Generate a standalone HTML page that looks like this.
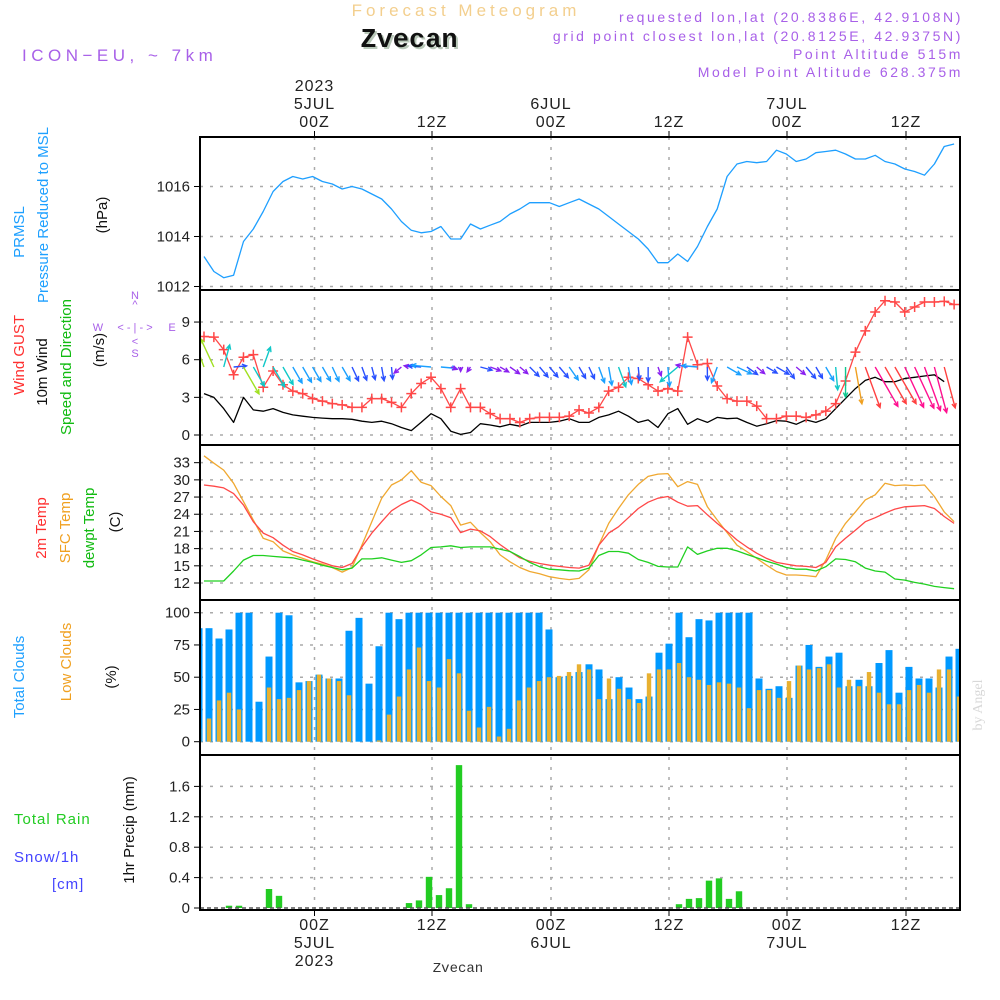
<!DOCTYPE html>
<html><head><meta charset="utf-8"><title>Forecast Meteogram Zvecan</title>
<style>
html,body{margin:0;padding:0;background:#fff;}
svg{display:block;font-family:"Liberation Sans",sans-serif;}
</style></head>
<body>
<svg id="chart" xmlns="http://www.w3.org/2000/svg" width="1000" height="1000" viewBox="0 0 1000 1000">
<rect x="0" y="0" width="1000" height="1000" fill="#fff"/>
<text x="466" y="16" text-anchor="middle" font-size="17" fill="#f3cf8e" letter-spacing="4">Forecast Meteogram</text>
<text x="411" y="49" text-anchor="middle" font-size="27" font-weight="bold" font-family="Liberation Mono, monospace" fill="#b9c8b9">Zvecan</text>
<text x="409" y="47" text-anchor="middle" font-size="27" font-weight="bold" font-family="Liberation Mono, monospace" fill="#111">Zvecan</text>
<text x="22" y="61" font-size="17" fill="#a860e8" letter-spacing="4.5">ICON−EU, ~ 7km</text>
<g font-size="14" fill="#a860e8" text-anchor="end" letter-spacing="2.6">
<text x="963" y="22">requested lon,lat (20.8386E, 42.9108N)</text>
<text x="963" y="41">grid point closest lon,lat (20.8125E, 42.9375N)</text>
<text x="963" y="59">Point Altitude 515m</text>
<text x="963" y="77">Model Point Altitude 628.375m</text>
</g>
<g font-size="15">
<text transform="translate(24,232) rotate(-90)" fill="#1ea0ff" text-anchor="middle">PRMSL</text>
<text transform="translate(48,215) rotate(-90)" fill="#1ea0ff" text-anchor="middle">Pressure Reduced to MSL</text>
<text transform="translate(107,215) rotate(-90)" fill="#111" text-anchor="middle">(hPa)</text>
</g>
<g font-size="15">
<text transform="translate(24,355) rotate(-90)" fill="#ff3030" text-anchor="middle">Wind GUST</text>
<text transform="translate(47,372) rotate(-90)" fill="#111" text-anchor="middle">10m Wind</text>
<text transform="translate(71,367) rotate(-90)" fill="#11bb11" text-anchor="middle">Speed and Direction</text>
<text transform="translate(104,350) rotate(-90)" fill="#111" text-anchor="middle">(m/s)</text>
</g>
<g fill="#a860e8" font-size="11" text-anchor="middle">
<text x="135" y="299">N</text><text x="135" y="308">^</text>
<text x="98" y="331">W</text><text x="172" y="331">E</text>
<text x="135" y="331">&lt; - | - &gt;</text>
<text x="135" y="345">&lt;</text><text x="135" y="357">S</text>
</g>
<g font-size="15">
<text transform="translate(46,528) rotate(-90)" fill="#ff3030" text-anchor="middle">2m Temp</text>
<text transform="translate(70,528) rotate(-90)" fill="#f0a020" text-anchor="middle">SFC Temp</text>
<text transform="translate(94,528) rotate(-90)" fill="#11bb11" text-anchor="middle">dewpt Temp</text>
<text transform="translate(120,522) rotate(-90)" fill="#111" text-anchor="middle">(C)</text>
</g>
<g font-size="15">
<text transform="translate(24,677) rotate(-90)" fill="#1ea0ff" text-anchor="middle">Total Clouds</text>
<text transform="translate(71,662) rotate(-90)" fill="#f0a020" text-anchor="middle">Low Clouds</text>
<text transform="translate(116,677) rotate(-90)" fill="#111" text-anchor="middle">(%)</text>
</g>
<g font-size="15">
<text x="14" y="824" fill="#22cc22" letter-spacing="1">Total  Rain</text>
<text x="14" y="862" fill="#4444ff" letter-spacing="1">Snow/1h</text>
<text x="52" y="889" fill="#4444ff" letter-spacing="1">[cm]</text>
<text transform="translate(134,830) rotate(-90)" fill="#111" text-anchor="middle">1hr Precip (mm)</text>
</g>
<text transform="translate(982,705) rotate(-90)" font-size="14" font-family="Liberation Serif, serif" fill="#d8d8d8" text-anchor="middle">by Angel</text>
<text x="458" y="972" font-size="14" font-family="Liberation Mono, monospace" fill="#333" text-anchor="middle">Zvecan</text>
<g id="plot"></g>
</svg>
<script>
const pressure = [1013.2,1012.6,1012.35,1012.45,1013.8,1014.3,1015.0,1015.8,1016.2,1016.4,1016.3,1016.4,1016.2,1016.1,1015.9,1016.0,1015.9,1015.7,1015.5,1015.1,1014.6,1014.25,1014.15,1014.2,1014.4,1013.9,1013.9,1014.5,1014.3,1014.45,1014.6,1014.9,1015.1,1015.35,1015.35,1015.35,1015.2,1015.35,1015.5,1015.3,1015.1,1014.8,1014.5,1014.2,1013.9,1013.5,1012.95,1012.95,1013.3,1013.0,1013.6,1014.4,1015.1,1016.4,1016.9,1017.0,1016.95,1017.0,1017.45,1017.3,1017.0,1017.1,1017.35,1017.4,1017.45,1017.3,1017.1,1017.1,1017.25,1017.0,1016.9,1016.7,1016.6,1016.45,1016.9,1017.6,1017.7];
const gust = [7.85,7.8,6.8,4.8,6.2,6.4,3.8,5.1,4.0,3.5,3.3,2.9,2.7,2.5,2.4,2.2,2.2,2.9,2.9,2.6,2.2,3.3,4.1,4.6,3.7,2.2,3.7,2.2,2.2,1.7,1.3,1.3,1.0,1.3,1.4,1.4,1.4,1.5,2.0,1.75,2.2,3.5,3.8,4.6,4.5,4.0,3.5,3.7,3.5,7.8,5.6,5.7,3.9,2.9,2.7,2.7,2.3,1.3,1.3,1.5,1.5,1.4,1.6,1.9,2.5,4.3,6.6,8.3,9.8,10.7,10.6,9.8,10.2,10.6,10.6,10.65,10.4];
const wind10m = [3.3,3.0,2.1,1.0,3.0,2.0,1.9,2.1,1.8,1.6,1.5,1.4,1.35,1.3,1.3,1.25,1.1,1.0,1.1,0.9,0.6,0.35,1.0,1.7,1.3,0.3,0.05,0.2,0.9,0.8,0.65,0.85,0.7,1.0,1.0,1.0,1.1,1.3,1.0,1.0,1.4,1.6,1.9,1.5,1.0,1.2,0.6,1.7,2.1,0.85,1.3,1.0,1.4,1.3,1.35,1.0,0.7,0.9,1.15,1.1,0.85,1.2,1.0,1.3,2.1,2.9,3.7,4.35,4.6,4.25,4.25,4.5,4.6,4.7,4.8,4.25];
const windDir = [340,335,15,85,150,150,20,150,150,150,150,150,150,155,150,155,160,165,170,175,230,280,275,275,95,110,180,215,105,110,120,125,130,135,140,140,140,145,150,155,160,170,160,170,175,180,160,175,230,280,275,180,200,120,115,125,130,120,120,145,130,140,150,150,175,180,170,160,150,150,150,155,155,160,165,165,170];
const temp2m = [29.1,28.9,28.6,27.6,25.6,22.7,20.7,19.9,18.6,17.5,16.9,16.2,15.6,15.0,14.7,15.4,18.3,20.7,22.7,24.6,25.7,26.5,25.7,24.4,24.0,23.4,20.8,21.4,21.1,20.1,18.7,17.5,16.4,15.8,15.4,15.1,14.9,14.7,14.6,15.1,18.6,20.7,21.8,23.4,25.0,26.1,26.8,27.1,26.1,25.4,25.5,23.9,22.4,21.0,19.5,18.3,17.2,16.3,15.6,15.3,15.0,14.9,14.7,15.6,18.3,19.8,21.2,22.7,23.4,24.2,24.9,25.3,25.4,25.5,25.0,23.6,22.4];
const tempSfc = [34.2,32.9,31.7,29.4,26.2,23.0,19.8,19.2,17.6,16.9,16.3,15.7,15.3,14.7,13.9,14.7,18.6,22.7,26.8,29.1,30.0,31.6,29.6,29.0,27.1,25.5,22.1,22.6,20.8,19.2,16.9,15.7,14.7,14.0,13.6,13.1,12.8,12.6,12.8,14.3,18.6,22.4,25.0,27.4,29.2,30.6,31.0,31.1,28.8,29.7,29.2,25.3,23.0,20.8,18.6,17.5,16.3,15.1,14.0,13.4,13.4,13.3,13.1,16.0,19.8,22.4,24.4,26.5,27.4,29.4,29.0,29.1,29.0,29.1,27.1,24.4,22.7];
const dewpt = [12.35,12.35,12.35,14.1,16.0,16.8,16.8,16.65,16.5,16.4,16.0,15.6,15.1,14.7,14.3,14.6,16.2,16.2,16.4,16.0,15.6,15.9,16.9,18.2,18.3,18.5,18.2,18.3,18.3,18.3,17.9,17.5,16.6,15.6,14.85,14.4,14.3,14.15,14.1,14.6,16.8,17.5,17.5,17.2,16.1,15.6,14.9,14.8,14.8,18.3,17.0,17.6,18.05,18.05,17.6,17.0,16.4,15.8,15.3,14.7,14.4,14.4,14.1,14.85,16.2,16.1,15.7,14.6,14.1,13.9,12.7,12.5,12.1,11.8,11.4,11.2,11.0];
const totalClouds = [88,88,80,87,100,100,31,66,100,98,46,47,52,49,49,86,96,45,74,100,95,100,100,100,100,100,100,100,100,100,100,100,100,100,100,87,50,51,54,60,56,33,50,42,33,35,69,76,100,81,95,94,100,100,100,100,49,41,43,34,59,75,58,66,69,43,48,43,61,71,38,58,49,49,42,66,72,49];
const lowClouds = [10,18,32,38,25,0,0,42,33,34,40,47,52,49,47,36,0,0,1,21,35,56,73,47,42,64,53,24,11,27,4,10,32,42,47,50,51,54,60,56,33,49,41,33,30,53,56,56,61,50,48,44,46,45,42,26,40,40,34,47,59,56,57,60,42,48,43,54,38,29,29,40,44,38,56,56,35];
const precip = [0,0,0,0.03,0.03,0,0,0.25,0.16,0,0,0,0,0,0,0,0,0,0,0,0,0.065,0.10,0.41,0.17,0.26,1.88,0.05,0,0,0,0,0,0,0,0,0,0,0,0,0,0,0,0,0,0,0,0,0.05,0.12,0.13,0.36,0.39,0.12,0.22,0,0,0,0,0,0,0,0,0,0,0,0,0,0,0,0,0,0,0,0,0,0];
const pressTicks = [1012,1014,1016];
const windTicks = [0,3,6,9];
const tempTicks = [12,15,18,21,24,27,30,33];
const cloudTicks = [0,25,50,75,100];
const precipTicks = [0,0.4,0.8,1.2,1.6];
const timeTicks = [11.55,23.3,35.2,47.0,58.8,70.7];
const timeLabels = ["00Z","12Z","00Z","12Z","00Z","12Z"];
const dayLabels = ["5JUL","","6JUL","","7JUL",""];
const yearLabels = ["2023","","","","",""];

const XL=200, XR=960;
function xb(i){return 199+10*i;}
function xl(i){return 204+9.87*i;}
const yP = v => 286.5-(v-1012)*25;
const yW = v => 435-v*12.55;
const yT = v => 583-(v-12)*5.73;
const yC = v => 741.7-v*1.29;
const yR = v => 908-v*76;
const panels = [[137,290],[290,445],[445,600],[600,755],[755,910]];

const NS="http://www.w3.org/2000/svg";
const plot=document.getElementById('plot');
function el(tag,attrs,parent){const e=document.createElementNS(NS,tag);for(const k in attrs)e.setAttribute(k,attrs[k]);(parent||plot).appendChild(e);return e;}

const grid=el('g',{});


function hgrid(ticks,f,p){ticks.forEach(t=>{const y=f(t);if(y<=p[0]+2||y>=p[1]-2)return;const l=el('line',{x1:XL,x2:XR,y1:y,y2:y,stroke:'#aaa','stroke-width':1.5,'stroke-dasharray':'3,7'},grid);

});}
hgrid(pressTicks,yP,panels[0]);hgrid(windTicks,yW,panels[1]);hgrid(tempTicks,yT,panels[2]);hgrid(cloudTicks,yC,panels[3]);hgrid(precipTicks,yR,panels[4]);
timeTicks.forEach(t=>{const x=xb(t);const l=el('line',{x1:x,x2:x,y1:137,y2:910,stroke:'#aaa','stroke-width':1.5,'stroke-dasharray':'3,7'},grid);

});

function ylabels(ticks,f,name,fmt){const g=el('g',{'font-size':15,fill:'#222','text-anchor':'end'});


ticks.forEach(t=>{const y=f(t);const tx=el('text',{x:190,y:y+5},g);tx.textContent=fmt?fmt(t):t;


el('line',{x1:194,x2:200,y1:y,y2:y,stroke:'#000','stroke-width':1},g);});}
ylabels(pressTicks,yP,'pressure-y-axis');ylabels(windTicks,yW,'wind-y-axis');ylabels(tempTicks,yT,'temp-y-axis');ylabels(cloudTicks,yC,'cloud-y-axis');ylabels(precipTicks,yR,'precip-y-axis',t=>t===0?'0':t.toFixed(1));

const tg=el('g',{'font-size':16,fill:'#222','text-anchor':'middle','letter-spacing':'1'});


timeTicks.forEach((t,k)=>{const x=xb(t);
const a=el('text',{x:x,y:127},tg);a.textContent=timeLabels[k];


if(dayLabels[k]){const d=el('text',{x:x,y:109},tg);d.textContent=dayLabels[k];


const d2=el('text',{x:x,y:948},tg);d2.textContent=dayLabels[k];

}
if(yearLabels[k]){const yv=el('text',{x:x,y:91},tg);yv.textContent=yearLabels[k];


const y2=el('text',{x:x,y:966},tg);y2.textContent=yearLabels[k];

}
const b=el('text',{x:x,y:930},tg);b.textContent=timeLabels[k];


el('line',{x1:x,x2:x,y1:131,y2:137,stroke:'#000'},tg);el('line',{x1:x,x2:x,y1:910,y2:916,stroke:'#000'},tg);});

const defs=el('defs',{});const cp=el('clipPath',{id:'clipArea'},defs);el('rect',{x:XL,y:137,width:XR-XL,height:773},cp);
const data=el('g',{'clip-path':'url(#clipArea)'});



function line(arr,f,color,name,w){const pts=arr.map((v,i)=>xl(i).toFixed(1)+','+f(v).toFixed(1)).join(' ');
const p=el('polyline',{points:pts,fill:'none',stroke:color,'stroke-width':w||1.3,'stroke-linejoin':'round'},data);

}

line(pressure,yP,'#1e9fff','pressure-line');

line(wind10m,yW,'#000','wind-10m-line');
line(gust,yW,'#ff4848','wind-gust-line');
gust.forEach((v,i)=>{const x=xl(i),y=yW(v);const m=el('path',{d:`M${x-5},${y}H${x+5}M${x},${y-5}V${y+5}`,stroke:'#ff4848','stroke-width':1.5},data);

});
function windColor(s){if(s<0.9)return'#8a20f0';if(s<1.3)return'#2850ff';if(s<1.8)return'#1aa0ff';if(s<2.4)return'#10c8c8';if(s<3.0)return'#10c890';if(s<3.6)return'#a0e020';if(s<4.2)return'#f0a020';if(s<4.5)return'#ff4040';return'#ff1090';}
windDir.forEach((d,i)=>{if(i>=wind10m.length)return;const s=wind10m[i];const L=4+s*9;const a=d*Math.PI/180;
const x0=xl(i),y0=367;const x1=x0+L*Math.sin(a),y1=y0-L*Math.cos(a);const c=windColor(s);
const h=5,ang=Math.atan2(y1-y0,x1-x0);
const hx1=x1-h*Math.cos(ang-0.45),hy1=y1-h*Math.sin(ang-0.45),hx2=x1-h*Math.cos(ang+0.45),hy2=y1-h*Math.sin(ang+0.45);
const p=el('path',{d:`M${x0},${y0}L${x1},${y1}M${hx1},${hy1}L${x1},${y1}L${hx2},${hy2}`,stroke:c,'stroke-width':1.4,fill:'none'},data);

});

line(tempSfc,yT,'#f0a830','sfc-temp-line');
line(temp2m,yT,'#ff4848','temp-2m-line');
line(dewpt,yT,'#20d020','dewpoint-line');

totalClouds.forEach((v,i)=>{const x=xb(i);const r=el('rect',{x:x-3.5,y:yC(v),width:7,height:yC(0)-yC(v),fill:'#0099ff'},data);

});
lowClouds.forEach((v,i)=>{const x=xb(i);const r=el('rect',{x:x-2.2,y:yC(v),width:4.4,height:yC(0)-yC(v),fill:'#e8b030'},data);

});

precip.forEach((v,i)=>{if(v<=0)return;const x=xb(i);const r=el('rect',{x:x-3.2,y:yR(v),width:6.4,height:yR(0)-yR(v),fill:'#22cc22'},data);

});
const base=el('line',{x1:XL,x2:XR,y1:908,y2:908,stroke:'#555','stroke-width':1.5,'stroke-dasharray':'4,3'},data);



panels.forEach((p,k)=>{const r=el('rect',{x:XL,y:p[0],width:XR-XL,height:p[1]-p[0],fill:'none',stroke:'#000','stroke-width':2});

});
</script>
</body></html>
